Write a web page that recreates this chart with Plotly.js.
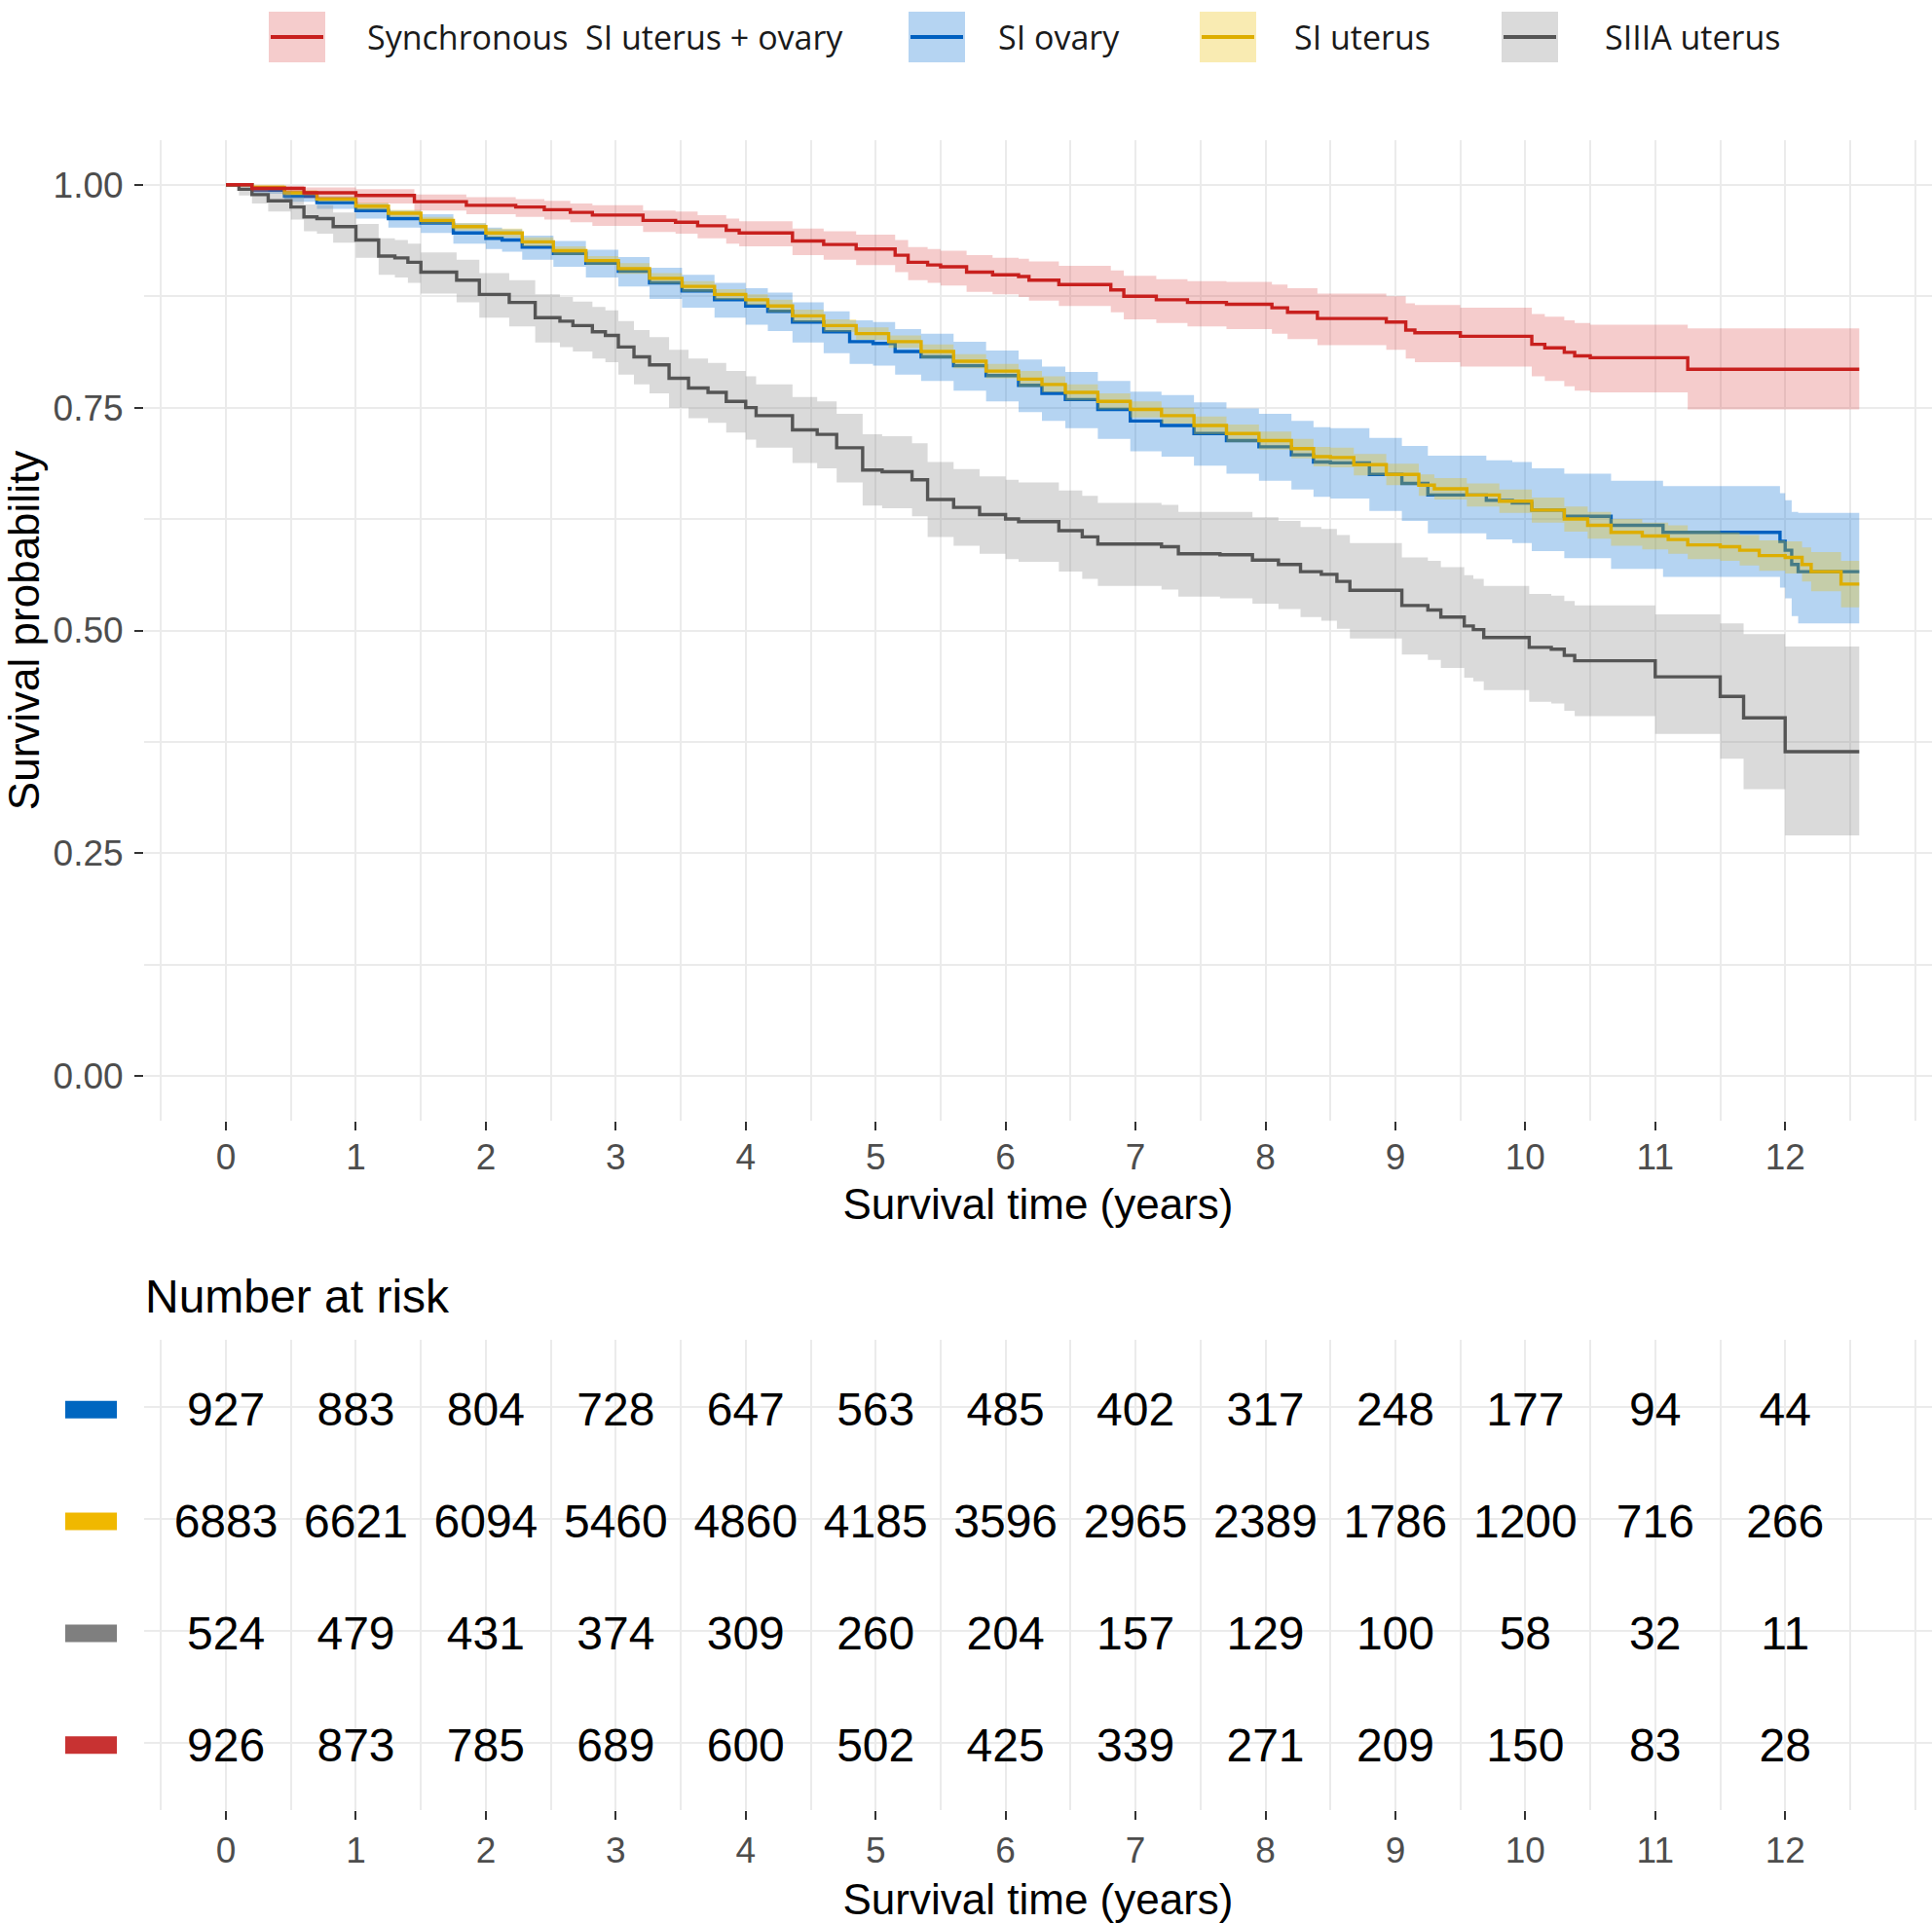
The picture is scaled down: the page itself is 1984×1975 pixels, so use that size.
<!DOCTYPE html>
<html><head><meta charset="utf-8">
<script src="https://cdn.plot.ly/plotly-3.0.1.min.js"></script>
<style>html,body{margin:0;padding:0;background:#fff}</style>
</head><body><div id="chart" style="width:1984px;height:1975px"></div>
<script>
// ---------- Data ----------
const seriesNames = ['SI ovary', 'SI uterus', 'SIIIA uterus', 'Synchronous  SI uterus + ovary'];

const tBlue = [0,0.2,0.45,0.7,1.0,1.25,1.5,1.75,2.0,2.125,2.28,2.52,2.77,3.02,3.26,3.51,3.76,4.0,4.17,4.36,4.6,4.8,4.98,5.15,5.35,5.6,5.85,6.1,6.28,6.46,6.71,6.96,7.2,7.45,7.7,7.95,8.2,8.37,8.5,8.8,9.05,9.25,9.7,9.9,10.05,10.3,10.66,11.06,11.96,12.0,12.05,12.1,12.57];
const sBlue = [1,0.994,0.987,0.98,0.971,0.962,0.957,0.946,0.94,0.938,0.93,0.923,0.912,0.903,0.89,0.881,0.871,0.864,0.858,0.846,0.835,0.824,0.822,0.813,0.807,0.797,0.786,0.775,0.766,0.759,0.748,0.735,0.73,0.721,0.713,0.706,0.697,0.689,0.688,0.675,0.665,0.652,0.646,0.643,0.635,0.628,0.618,0.61,0.6,0.59,0.574,0.566,0.566];
const hiBlue = [1,0.998,0.993,0.987,0.979,0.971,0.967,0.957,0.952,0.95,0.943,0.937,0.927,0.919,0.907,0.899,0.89,0.884,0.879,0.868,0.858,0.848,0.846,0.838,0.833,0.824,0.814,0.804,0.796,0.79,0.78,0.768,0.764,0.756,0.749,0.743,0.735,0.728,0.727,0.716,0.707,0.696,0.691,0.689,0.682,0.676,0.668,0.662,0.654,0.646,0.633,0.632,0.632];
const loBlue = [1,0.99,0.981,0.973,0.962,0.952,0.946,0.934,0.928,0.925,0.916,0.908,0.896,0.886,0.872,0.862,0.851,0.843,0.836,0.823,0.811,0.799,0.797,0.787,0.78,0.769,0.757,0.745,0.735,0.727,0.715,0.701,0.695,0.685,0.676,0.668,0.658,0.65,0.648,0.634,0.623,0.609,0.602,0.598,0.589,0.581,0.569,0.56,0.548,0.536,0.516,0.508,0.508];

const tYel = [0,0.2,0.45,0.7,1.0,1.25,1.5,1.75,2.0,2.28,2.52,2.77,3.02,3.26,3.51,3.76,4.0,4.17,4.36,4.6,4.85,5.1,5.35,5.6,5.85,6.1,6.28,6.46,6.71,6.96,7.2,7.45,7.7,7.95,8.2,8.37,8.5,8.68,8.93,9.18,9.3,9.55,9.8,10.05,10.3,10.48,10.66,10.9,11.1,11.25,11.5,11.65,11.8,12.0,12.13,12.2,12.43,12.57];
const sYel = [1,0.997,0.991,0.984,0.976,0.968,0.96,0.953,0.946,0.936,0.926,0.915,0.906,0.895,0.886,0.877,0.871,0.864,0.853,0.842,0.833,0.824,0.813,0.802,0.791,0.782,0.776,0.767,0.757,0.748,0.741,0.73,0.721,0.713,0.704,0.695,0.694,0.686,0.675,0.663,0.659,0.652,0.645,0.635,0.625,0.618,0.61,0.606,0.602,0.596,0.594,0.59,0.584,0.582,0.574,0.566,0.552,0.552];
const hiYel = [1,1.0,0.994,0.987,0.98,0.972,0.964,0.957,0.951,0.941,0.931,0.92,0.912,0.901,0.892,0.883,0.877,0.871,0.86,0.849,0.84,0.831,0.821,0.81,0.799,0.791,0.785,0.776,0.766,0.757,0.75,0.74,0.731,0.723,0.715,0.706,0.705,0.698,0.687,0.675,0.671,0.665,0.658,0.649,0.639,0.633,0.625,0.621,0.618,0.612,0.61,0.607,0.601,0.6,0.593,0.588,0.578,0.578];
const loYel = [1,0.994,0.988,0.981,0.972,0.964,0.956,0.949,0.941,0.931,0.921,0.91,0.9,0.889,0.88,0.871,0.865,0.857,0.846,0.835,0.826,0.817,0.805,0.794,0.783,0.773,0.767,0.758,0.748,0.739,0.732,0.72,0.711,0.703,0.693,0.684,0.683,0.674,0.663,0.651,0.647,0.639,0.632,0.621,0.611,0.603,0.595,0.591,0.586,0.58,0.578,0.573,0.567,0.564,0.555,0.544,0.526,0.526];

const tGrey = [0,0.1,0.2,0.325,0.5,0.6,0.7,0.825,1.0,1.175,1.3,1.4,1.5,1.775,1.95,2.18,2.38,2.57,2.67,2.82,2.92,3.02,3.14,3.26,3.41,3.56,3.71,3.85,4.0,4.08,4.36,4.55,4.7,4.9,5.05,5.28,5.4,5.6,5.8,6.0,6.1,6.41,6.59,6.71,7.2,7.33,7.65,7.9,8.1,8.27,8.43,8.55,8.65,9.05,9.25,9.35,9.53,9.6,9.68,10.03,10.2,10.3,10.38,11.0,11.5,11.68,12.0,12.57];
const sGrey = [1,0.995,0.989,0.982,0.975,0.964,0.962,0.953,0.938,0.92,0.918,0.913,0.902,0.893,0.877,0.868,0.851,0.847,0.842,0.835,0.831,0.818,0.807,0.798,0.783,0.772,0.767,0.757,0.75,0.741,0.725,0.72,0.705,0.68,0.678,0.669,0.647,0.638,0.63,0.625,0.622,0.612,0.605,0.597,0.594,0.586,0.585,0.579,0.574,0.566,0.563,0.555,0.545,0.528,0.523,0.515,0.505,0.501,0.492,0.481,0.479,0.472,0.466,0.448,0.426,0.402,0.364,0.364];
const hiGrey = [1,1.0,0.997,0.992,0.987,0.978,0.977,0.969,0.956,0.94,0.938,0.934,0.924,0.916,0.901,0.893,0.877,0.874,0.869,0.863,0.859,0.847,0.837,0.829,0.815,0.805,0.8,0.791,0.785,0.776,0.762,0.757,0.743,0.72,0.718,0.71,0.689,0.681,0.673,0.669,0.666,0.657,0.651,0.643,0.641,0.633,0.633,0.627,0.623,0.616,0.614,0.607,0.598,0.582,0.578,0.571,0.562,0.558,0.55,0.541,0.539,0.533,0.528,0.518,0.508,0.496,0.482,0.482];
const loGrey = [1,0.988,0.979,0.97,0.961,0.948,0.945,0.935,0.918,0.899,0.896,0.89,0.878,0.868,0.851,0.841,0.823,0.818,0.813,0.805,0.801,0.787,0.776,0.766,0.75,0.738,0.733,0.722,0.714,0.705,0.688,0.682,0.666,0.64,0.637,0.628,0.605,0.595,0.586,0.58,0.577,0.566,0.558,0.55,0.546,0.538,0.536,0.53,0.524,0.515,0.511,0.502,0.491,0.473,0.467,0.458,0.447,0.443,0.433,0.42,0.418,0.41,0.404,0.384,0.356,0.322,0.27,0.27];

const tRed = [0,0.2,0.6,1.0,1.45,1.85,2.23,2.45,2.65,2.82,3.21,3.46,3.63,3.85,3.95,4.36,4.6,4.85,5.15,5.25,5.4,5.5,5.7,5.9,6.1,6.18,6.41,6.81,6.91,7.16,7.4,7.7,8.05,8.17,8.4,8.93,9.08,9.15,9.5,10.05,10.15,10.3,10.38,10.5,11.25,12.57];
const sRed = [1,0.996,0.991,0.988,0.981,0.977,0.975,0.972,0.969,0.966,0.96,0.958,0.954,0.949,0.946,0.937,0.933,0.928,0.921,0.913,0.91,0.908,0.902,0.899,0.897,0.893,0.888,0.882,0.875,0.871,0.868,0.866,0.862,0.857,0.85,0.846,0.837,0.834,0.83,0.821,0.817,0.812,0.808,0.806,0.793,0.793];
const hiRed = [1,0.999,0.997,0.995,0.989,0.986,0.984,0.982,0.979,0.977,0.971,0.97,0.966,0.962,0.959,0.951,0.948,0.944,0.938,0.93,0.928,0.926,0.921,0.918,0.917,0.914,0.909,0.904,0.898,0.894,0.892,0.891,0.888,0.884,0.878,0.875,0.867,0.865,0.862,0.855,0.852,0.848,0.845,0.843,0.839,0.839];
const loRed = [1,0.992,0.985,0.979,0.971,0.967,0.964,0.961,0.958,0.954,0.947,0.945,0.94,0.934,0.931,0.921,0.916,0.91,0.902,0.893,0.89,0.887,0.88,0.877,0.874,0.87,0.864,0.857,0.849,0.845,0.841,0.838,0.833,0.827,0.82,0.815,0.805,0.801,0.796,0.785,0.78,0.774,0.769,0.767,0.748,0.748];

const riskTimes = [0,1,2,3,4,5,6,7,8,9,10,11,12];
const riskBlue = [927,883,804,728,647,563,485,402,317,248,177,94,44];
const riskYel  = [6883,6621,6094,5460,4860,4185,3596,2965,2389,1786,1200,716,266];
const riskGrey = [524,479,431,374,309,260,204,157,129,100,58,32,11];
const riskRed  = [926,873,785,689,600,502,425,339,271,209,150,83,28];

const xTicks = [0,1,2,3,4,5,6,7,8,9,10,11,12];
const yTicks = [0,0.25,0.5,0.75,1];
const yTickText = ['0.00','0.25','0.50','0.75','1.00'];

// ---------- Styling ----------
const W = 1984, H = 1975;
const px = v => v / W;
const py = v => 1 - v / H;
const FONT = 'Liberation Sans, Arial, sans-serif';

const S = [
  {name: seriesNames[0], t: tBlue, s: sBlue, hi: hiBlue, lo: loBlue, risk: riskBlue, line: '#0060C0', band: 'rgba(30,125,215,0.33)', key: '#0066C0'},
  {name: seriesNames[1], t: tYel,  s: sYel,  hi: hiYel,  lo: loYel,  risk: riskYel,  line: '#DDAE00', band: 'rgba(235,190,0,0.30)', key: '#F0B800'},
  {name: seriesNames[2], t: tGrey, s: sGrey, hi: hiGrey, lo: loGrey, risk: riskGrey, line: '#555555', band: 'rgba(140,140,140,0.32)', key: '#7F7F7F'},
  {name: seriesNames[3], t: tRed,  s: sRed,  hi: hiRed,  lo: loRed,  risk: riskRed,  line: '#C8201E', band: 'rgba(215,40,40,0.24)', key: '#C83232'}
];

const traces = [];
// per stratum: confidence ribbon, then survival step line
S.forEach(d => {
  traces.push({type: 'scatter', mode: 'lines', x: d.t, y: d.lo, line: {shape: 'hv', width: 0, color: 'rgba(0,0,0,0)'},
    showlegend: false, hoverinfo: 'skip', xaxis: 'x', yaxis: 'y'});
  traces.push({type: 'scatter', mode: 'lines', x: d.t, y: d.hi, fill: 'tonexty', fillcolor: d.band,
    line: {shape: 'hv', width: 0, color: 'rgba(0,0,0,0)'}, showlegend: false, hoverinfo: 'skip', xaxis: 'x', yaxis: 'y'});
  traces.push({type: 'scatter', mode: 'lines', x: d.t, y: d.s, name: d.name,
    line: {shape: 'hv', color: d.line, width: 3.4}, showlegend: false, hoverinfo: 'skip', xaxis: 'x', yaxis: 'y'});
});
// number-at-risk table (text on an overlaid category axis, nudged to sit on the row lines)
S.forEach(d => traces.push({
  type: 'scatter', mode: 'text', x: riskTimes, y: riskTimes.map(() => d.name),
  text: d.risk.map(String), textposition: 'middle center',
  textfont: {family: FONT, size: 48, color: '#000'}, showlegend: false, hoverinfo: 'skip',
  xaxis: 'x2', yaxis: 'y3', cliponaxis: false
}));

const gridC = '#EBEBEB';
const tickFont = {family: FONT, size: 37, color: '#4D4D4D'};
const xCommon = {
  range: [-0.63, 13.13], domain: [px(148), 1], tickmode: 'array', tickvals: xTicks,
  ticks: 'outside', ticklen: 9, tickwidth: 2, tickcolor: '#333333',
  showline: false, zeroline: false, showgrid: true, gridcolor: gridC, gridwidth: 2,
  minor: {dtick: 0.5, tick0: 0, showgrid: true, gridcolor: gridC, gridwidth: 2, ticks: ''},
  tickfont: tickFont, automargin: false
};

const shapes = [];
const annotations = [];
const rowOrder = [seriesNames[3], seriesNames[2], seriesNames[1], seriesNames[0]];
// table colour keys
S.forEach(d => {
  const idx = rowOrder.indexOf(d.name);
  shapes.push({type: 'rect', xref: 'paper', yref: 'y2', x0: px(67), x1: px(120), y0: idx - 0.1, y1: idx + 0.057,
    fillcolor: d.key, line: {width: 0}});
});
// legend at the top (ribbon box + line keys)
const legendOrder = [3, 0, 1, 2];
const keyX = [276, 933, 1232, 1542];
const textX = [375, 1023, 1327, 1646];
legendOrder.forEach((si, i) => {
  const d = S[si];
  shapes.push({type: 'rect', xref: 'paper', yref: 'paper', x0: px(keyX[i]), x1: px(keyX[i] + 58), y0: py(64), y1: py(12),
    fillcolor: d.band, line: {width: 0}});
  shapes.push({type: 'line', xref: 'paper', yref: 'paper', x0: px(keyX[i] + 2), x1: px(keyX[i] + 56), y0: py(38), y1: py(38),
    line: {color: d.line, width: 4}});
  annotations.push({xref: 'paper', yref: 'paper', x: px(textX[i]), y: py(38), xanchor: 'left', yanchor: 'middle',
    text: d.name.replace('  ', '\u00a0 '), showarrow: false, font: {family: 'Open Sans, Noto Sans, sans-serif', size: 34, color: '#1A1A1A'}});
});
annotations.push({xref: 'paper', yref: 'paper', x: px(147), y: py(1331), xanchor: 'left', yanchor: 'middle',
  text: 'Number at risk', showarrow: false, font: {family: FONT, size: 48, color: '#000'}});

const tableDomain = [py(1858.7), py(1376.4)];
const layout = {
  width: W, height: H, margin: {l: 0, r: 0, t: 0, b: 0},
  paper_bgcolor: '#fff', plot_bgcolor: '#fff', showlegend: false,
  font: {family: FONT},
  xaxis: Object.assign({}, xCommon, {anchor: 'y', ticklabelstandoff: -4,
    title: {text: 'Survival time (years)', font: {family: FONT, size: 44, color: '#000'}, standoff: 12}}),
  yaxis: {
    domain: [py(1151), py(144)], range: [-0.05, 1.05], anchor: 'x',
    tickmode: 'array', tickvals: yTicks, ticktext: yTickText,
    ticks: 'outside', ticklen: 9, tickwidth: 2, tickcolor: '#333333', ticklabelstandoff: 4,
    showline: false, zeroline: false, showgrid: true, gridcolor: gridC, gridwidth: 2,
    minor: {dtick: 0.125, tick0: 0, showgrid: true, gridcolor: gridC, gridwidth: 2, ticks: ''},
    tickfont: tickFont, automargin: false,
    title: {text: 'Survival probability', font: {family: FONT, size: 44, color: '#000'}, standoff: 5}
  },
  xaxis2: Object.assign({}, xCommon, {anchor: 'y2',
    title: {text: 'Survival time (years)', font: {family: FONT, size: 44, color: '#000'}, standoff: 16}}),
  yaxis2: {
    domain: tableDomain, type: 'category', categoryorder: 'array', categoryarray: rowOrder,
    range: [-0.6, 3.6], anchor: 'x2', showticklabels: false, ticks: '',
    showline: false, zeroline: false, showgrid: true, gridcolor: gridC, gridwidth: 2, automargin: false
  },
  yaxis3: {
    domain: tableDomain, type: 'category', categoryorder: 'array', categoryarray: rowOrder,
    range: [-0.54, 3.66], anchor: 'x2', overlaying: 'y2', showticklabels: false, ticks: '',
    showline: false, zeroline: false, showgrid: false, automargin: false
  },
  shapes: shapes, annotations: annotations
};

Plotly.newPlot('chart', traces, layout, {displayModeBar: false, staticPlot: true});
</script>
</body></html>
